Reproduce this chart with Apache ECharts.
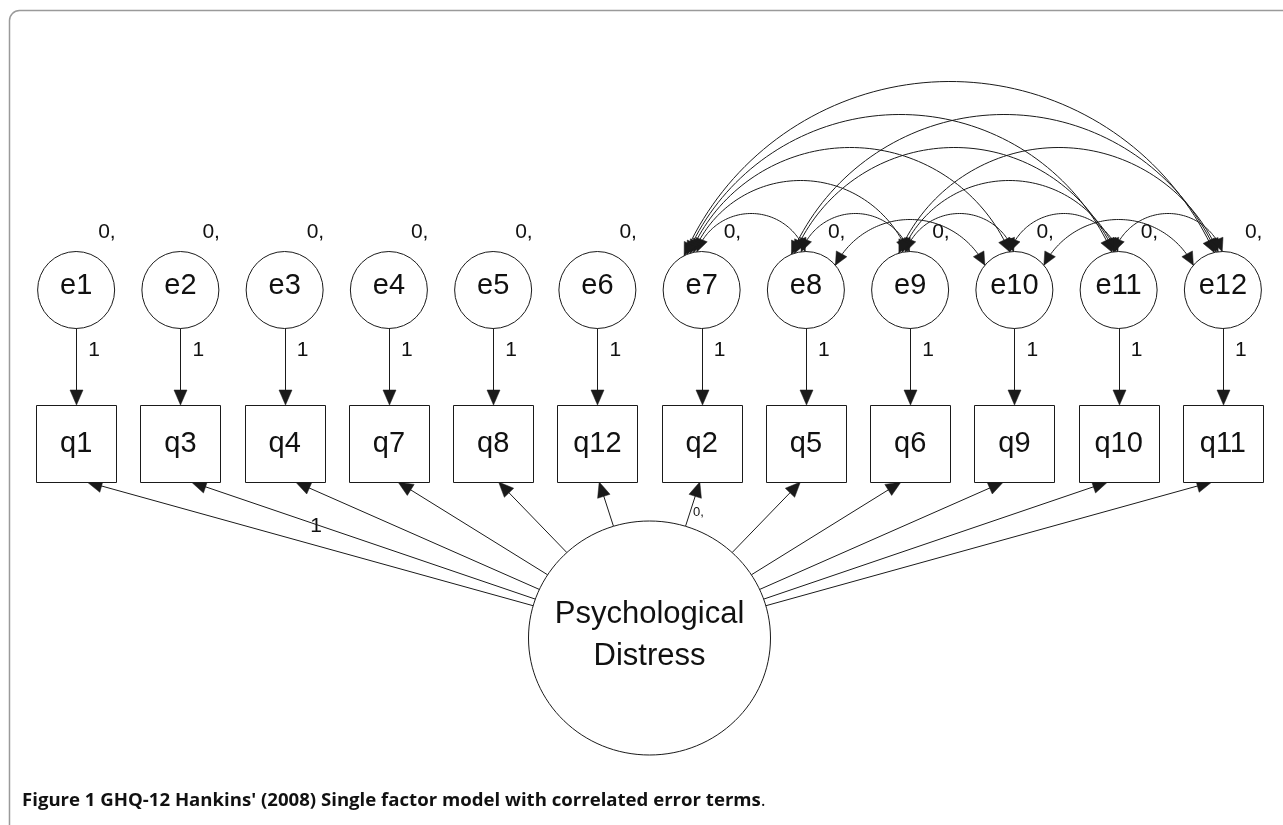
<!DOCTYPE html>
<html>
<head>
<meta charset="utf-8">
<script src="https://cdn.jsdelivr.net/npm/echarts@6/dist/echarts.min.js"></script>
<style>
  html, body { margin: 0; padding: 0; background: #fff; }
  #chart { width: 1283px; height: 825px; }
</style>
</head>
<body>
<div id="chart"></div>
<script>
// observed variables (boxes), left to right
const items = ['q1', 'q3', 'q4', 'q7', 'q8', 'q12', 'q2', 'q5', 'q6', 'q9', 'q10', 'q11']
// error terms (circles), one above each item
const errors = ['e1', 'e2', 'e3', 'e4', 'e5', 'e6', 'e7', 'e8', 'e9', 'e10', 'e11', 'e12']
// labels on error -> item paths and error means
const errorPathLabels = ['1', '1', '1', '1', '1', '1', '1', '1', '1', '1', '1', '1']
const errorMeanLabels = ['0,', '0,', '0,', '0,', '0,', '0,', '0,', '0,', '0,', '0,', '0,', '0,']
// factor -> item loadings, only q1 is fixed
const loadingLabels = ['1', '', '', '', '', '', '', '', '', '', '', '']
const factorName = ['Psychological', 'Distress']
const factorMeanLabel = '0,'
// correlated error terms (index pairs into errors): e7..e12 all pairwise
const correlatedErrors = [
  [6, 7], [6, 8], [6, 9], [6, 10], [6, 11],
  [7, 8], [7, 9], [7, 10], [7, 11],
  [8, 9], [8, 10], [8, 11],
  [9, 10], [9, 11],
  [10, 11]
]
const captionBold = 'Figure 1'
const captionText = "GHQ-12 Hankins' (2008) Single factor model with correlated error terms"

// layout rows (y axis units are pixels from the top)
const ROW_ERR = 290
const ROW_ITEM = 443.5
const ROW_FACTOR = 638
const FACTOR_X = (items.length - 1) / 2

const ERR_R = 38.5
const BOX_W = 80
const BOX_H = 77
const F_RX = 121
const F_RY = 117
const INK = '#1a1a1a'
const FONT = 'Liberation Sans, Arial, sans-serif'

// caption spans x 22..765 in the figure, fit the font size to that
const CAPTION_LEFT = 22
const CAPTION_WIDTH = 743
function captionSize () {
  const ctx = document.createElement('canvas').getContext('2d')
  ctx.font = 'bold 100px "Open Sans"'
  let w = ctx.measureText(captionBold + ' ' + captionText).width
  ctx.font = 'normal 100px "Open Sans"'
  w += ctx.measureText('.').width
  return Math.round(CAPTION_WIDTH / w * 1000) / 10
}
const CAP_SIZE = captionSize()

function arrowHead (tip, ux, uy, len, hw) {
  const bx = tip[0] - ux * len
  const by = tip[1] - uy * len
  return {
    type: 'polygon',
    shape: { points: [[tip[0], tip[1]], [bx - uy * hw, by + ux * hw], [bx + uy * hw, by - ux * hw]] },
    style: { fill: INK, stroke: INK, lineWidth: 0.5 }
  }
}

function label (text, x, y, size, align) {
  return {
    type: 'text',
    style: {
      text: text,
      x: x,
      y: y,
      fill: '#111',
      font: size + 'px ' + FONT,
      align: align || 'center',
      textAlign: align || 'center',
      verticalAlign: 'middle',
      textVerticalAlign: 'middle'
    }
  }
}

// circle through A, B and M, sampled from A to B passing M
function arcPoints (A, B, M, n) {
  const [ax, ay] = A
  const [bx, by] = B
  const [mx, my] = M
  const d = 2 * (ax * (by - my) + bx * (my - ay) + mx * (ay - by))
  const a2 = ax * ax + ay * ay
  const b2 = bx * bx + by * by
  const m2 = mx * mx + my * my
  const cx = (a2 * (by - my) + b2 * (my - ay) + m2 * (ay - by)) / d
  const cy = (a2 * (mx - bx) + b2 * (ax - mx) + m2 * (bx - ax)) / d
  const R = Math.hypot(ax - cx, ay - cy)
  const TAU = Math.PI * 2
  const norm = a => ((a % TAU) + TAU) % TAU
  const tA = Math.atan2(ay - cy, ax - cx)
  const tB = Math.atan2(by - cy, bx - cx)
  const tM = Math.atan2(my - cy, mx - cx)
  let sweep = norm(tB - tA)
  if (norm(tM - tA) > sweep) sweep -= TAU
  const pts = []
  for (let k = 0; k <= n; k++) {
    const t = tA + sweep * k / n
    pts.push([cx + R * Math.cos(t), cy + R * Math.sin(t)])
  }
  return pts
}

function onCircle (c, deg) {
  const a = deg * Math.PI / 180
  return [c[0] + ERR_R * Math.cos(a), c[1] - ERR_R * Math.sin(a)]
}

const chart = echarts.init(document.getElementById('chart'))

chart.setOption({
  animation: false,
  grid: { left: 24, right: 8, top: 0, bottom: 0 },
  xAxis: { type: 'value', min: -0.5, max: 11.5, show: false },
  yAxis: { type: 'value', min: 0, max: 825, inverse: true, show: false },
  graphic: [
    {
      type: 'rect',
      shape: { x: 9.5, y: 10.5, width: 1400, height: 1000, r: 10 },
      style: { fill: 'none', stroke: '#9a9a9a', lineWidth: 1.5 },
      silent: true
    },
    {
      type: 'text',
      x: CAPTION_LEFT,
      y: 801,
      style: {
        text: '{b|' + captionBold + ' ' + captionText + '}{p|.}',
        verticalAlign: 'middle',
        textVerticalAlign: 'middle',
        rich: {
          b: { fontFamily: 'Open Sans', fontWeight: 'bold', fontSize: CAP_SIZE, fill: '#111' },
          p: { fontFamily: 'Open Sans', fontWeight: 'normal', fontSize: CAP_SIZE, fill: '#111' }
        }
      }
    }
  ],
  series: [
    {
      // correlated errors: double headed arcs
      type: 'custom',
      name: 'covariances',
      data: correlatedErrors,
      renderItem (params, api) {
        const a = api.value(0)
        const b = api.value(1)
        const ca = api.coord([a, ROW_ERR])
        const cb = api.coord([b, ROW_ERR])
        const d = b - a
        let A, B, peak
        if (d === 2 && a % 2 === 1) {
          // low arcs leaving from the sides
          A = onCircle(ca, 40)
          B = onCircle(cb, 140)
          peak = ca[1] - ERR_R - 32
        } else {
          A = onCircle(ca, 92 + 5 * d)
          B = onCircle(cb, 88 + 3 * d)
          peak = ca[1] - ERR_R - (33 * d + 5)
        }
        const M = [(A[0] + B[0]) / 2, peak]
        const pts = arcPoints(A, B, M, 80)
        const n = pts.length
        let ux = pts[0][0] - pts[2][0]
        let uy = pts[0][1] - pts[2][1]
        let l = Math.hypot(ux, uy)
        const h1 = arrowHead(pts[0], ux / l, uy / l, 13, 6)
        ux = pts[n - 1][0] - pts[n - 3][0]
        uy = pts[n - 1][1] - pts[n - 3][1]
        l = Math.hypot(ux, uy)
        const h2 = arrowHead(pts[n - 1], ux / l, uy / l, 13, 6)
        return {
          type: 'group',
          children: [
            { type: 'polyline', shape: { points: pts }, style: { fill: 'none', stroke: INK, lineWidth: 1 } },
            h1,
            h2
          ]
        }
      }
    },
    {
      // factor -> item loadings
      type: 'custom',
      name: 'loadings',
      data: items.map((q, i) => [i, ROW_ITEM]),
      renderItem (params, api) {
        const i = params.dataIndex
        const f = api.coord([FACTOR_X, ROW_FACTOR])
        const b = api.coord([api.value(0), api.value(1)])
        const shift = Math.max(-11, Math.min(11, 0.035 * (f[0] - b[0])))
        const tip = [b[0] + shift, b[1] + BOX_H / 2]
        const vx = tip[0] - f[0]
        const vy = tip[1] - f[1]
        const t = 1 / Math.sqrt((vx / F_RX) ** 2 + (vy / F_RY) ** 2)
        const start = [f[0] + vx * t, f[1] + vy * t]
        const l = Math.hypot(vx, vy)
        const ux = vx / l
        const uy = vy / l
        const children = [
          { type: 'line', shape: { x1: start[0], y1: start[1], x2: tip[0] - ux * 8, y2: tip[1] - uy * 8 }, style: { stroke: INK, lineWidth: 1 } },
          arrowHead(tip, ux, uy, 15, 6.5)
        ]
        if (loadingLabels[i]) {
          const mx = (start[0] + tip[0]) / 2
          const my = (start[1] + tip[1]) / 2
          children.push(label(loadingLabels[i], mx + 6, my - 18, 21))
        }
        return { type: 'group', children: children }
      }
    },
    {
      // latent factor
      type: 'custom',
      name: 'factor',
      data: [[FACTOR_X, ROW_FACTOR]],
      renderItem (params, api) {
        const c = api.coord([api.value(0), api.value(1)])
        return {
          type: 'group',
          children: [
            { type: 'ellipse', shape: { cx: c[0], cy: c[1], rx: F_RX, ry: F_RY }, style: { fill: '#fff', stroke: INK, lineWidth: 1 } },
            label(factorName[0], c[0], c[1] - 24, 31),
            label(factorName[1], c[0], c[1] + 18, 31),
            label(factorMeanLabel, c[0] + 49, c[1] - 126, 13)
          ]
        }
      }
    },
    {
      // observed items
      type: 'custom',
      name: 'items',
      data: items.map((q, i) => [i, ROW_ITEM]),
      renderItem (params, api) {
        const c = api.coord([api.value(0), api.value(1)])
        return {
          type: 'group',
          children: [
            { type: 'rect', shape: { x: Math.round(c[0] - BOX_W / 2) + 0.5, y: Math.round(c[1] - BOX_H / 2) + 0.5, width: BOX_W, height: BOX_H }, style: { fill: '#fff', stroke: INK, lineWidth: 1 } },
            label(items[params.dataIndex], c[0], c[1], 29)
          ]
        }
      }
    },
    {
      // error terms with their paths to the items
      type: 'custom',
      name: 'errors',
      data: errors.map((e, i) => [i, ROW_ERR]),
      renderItem (params, api) {
        const i = params.dataIndex
        const c = api.coord([api.value(0), api.value(1)])
        const boxTop = api.coord([i, ROW_ITEM])[1] - BOX_H / 2
        const x = Math.round(c[0]) + 0.5
        return {
          type: 'group',
          children: [
            { type: 'circle', shape: { cx: c[0], cy: c[1], r: ERR_R }, style: { fill: '#fff', stroke: INK, lineWidth: 1 } },
            label(errors[i], c[0], c[1] - 4, 29),
            label(errorMeanLabels[i], c[0] + 22, c[1] - 58, 21, 'left'),
            { type: 'line', shape: { x1: x, y1: c[1] + ERR_R, x2: x, y2: boxTop - 8 }, style: { stroke: INK, lineWidth: 1 } },
            arrowHead([x, boxTop], 0, 1, 15, 6.5),
            label(errorPathLabels[i], c[0] + 18, c[1] + 60, 21)
          ]
        }
      }
    }
  ]
})
</script>
</body>
</html>
